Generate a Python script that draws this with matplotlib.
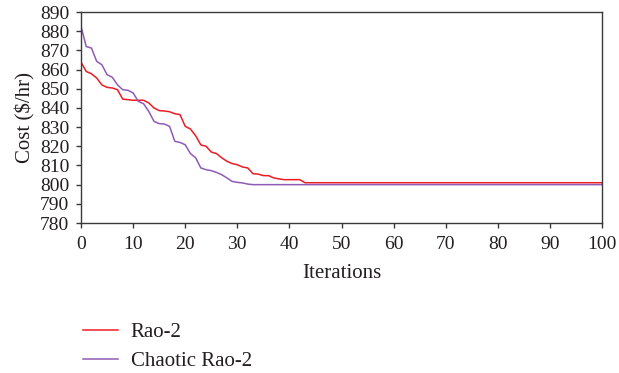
import matplotlib.pyplot as plt

# cost per iteration
iterations = list(range(0, 101))

rao2_head = [863.8, 859.0, 857.8, 855.6, 852.0, 850.7, 850.4, 849.5, 844.6, 844.3,
             844.0, 844.0, 844.0, 842.6, 840.0, 838.6, 838.4, 838.0, 837.0, 836.5,
             830.4, 829.0, 825.5, 820.7, 820.0, 817.0, 816.2, 814.0, 812.2, 811.0,
             810.4, 809.2, 808.7, 805.7, 805.5, 804.7, 804.7, 803.5, 803.0, 802.6,
             802.6, 802.6, 802.6]
rao2_tail = 801.0

chaotic_head = [882.5, 872.0, 871.2, 864.3, 862.5, 857.3, 856.0, 852.0, 849.5, 849.2,
                847.8, 843.4, 842.2, 838.2, 833.0, 831.8, 831.6, 830.4, 822.6, 822.0,
                820.8, 816.2, 814.0, 808.7, 807.8, 807.3, 806.4, 805.2, 803.5, 801.7,
                801.2, 800.9, 800.3]
chaotic_tail = 800.0

rao2 = rao2_head + [rao2_tail] * (len(iterations) - len(rao2_head))
chaotic = chaotic_head + [chaotic_tail] * (len(iterations) - len(chaotic_head))

y_ticks = list(range(780, 891, 10))
x_ticks = list(range(0, 101, 10))

TEXT = '#231f20'
plt.rcParams['font.family'] = ['Liberation Serif', 'DejaVu Serif']

fig = plt.figure(figsize=(6.19, 3.73), dpi=100)
ax = fig.add_axes([0.1309, 0.4021, 0.8416, 0.5657])

ax.plot(iterations, rao2, color='#ed1c24', lw=1.1, label='Rao-2')
ax.plot(iterations, chaotic, color='#8e5bb5', lw=1.1, label='Chaotic Rao-2')

ax.set_xlim(0, 100)
ax.set_ylim(780, 890)
ax.set_xticks(x_ticks)
ax.set_yticks(y_ticks)
ax.tick_params(direction='out', length=3.5, width=1, colors='#3a3a3a',
               labelsize=14, labelcolor=TEXT)
ax.tick_params(axis='y', pad=5)
ax.tick_params(axis='x', pad=5.5)
for s in ax.spines.values():
    s.set_color('#3a3a3a')
    s.set_linewidth(1)

ax.set_xlabel('Iterations', fontsize=15, color=TEXT, labelpad=8)
ax.set_ylabel('Cost ($/hr)', fontsize=15, color=TEXT, labelpad=3)

fig.legend(loc='upper left', bbox_to_anchor=(0.12, 0.158), frameon=False,
           fontsize=15, handlelength=1.7, handletextpad=0.6, labelspacing=0.45,
           labelcolor=TEXT, borderaxespad=0)

fig.savefig('out.png', dpi=100)
